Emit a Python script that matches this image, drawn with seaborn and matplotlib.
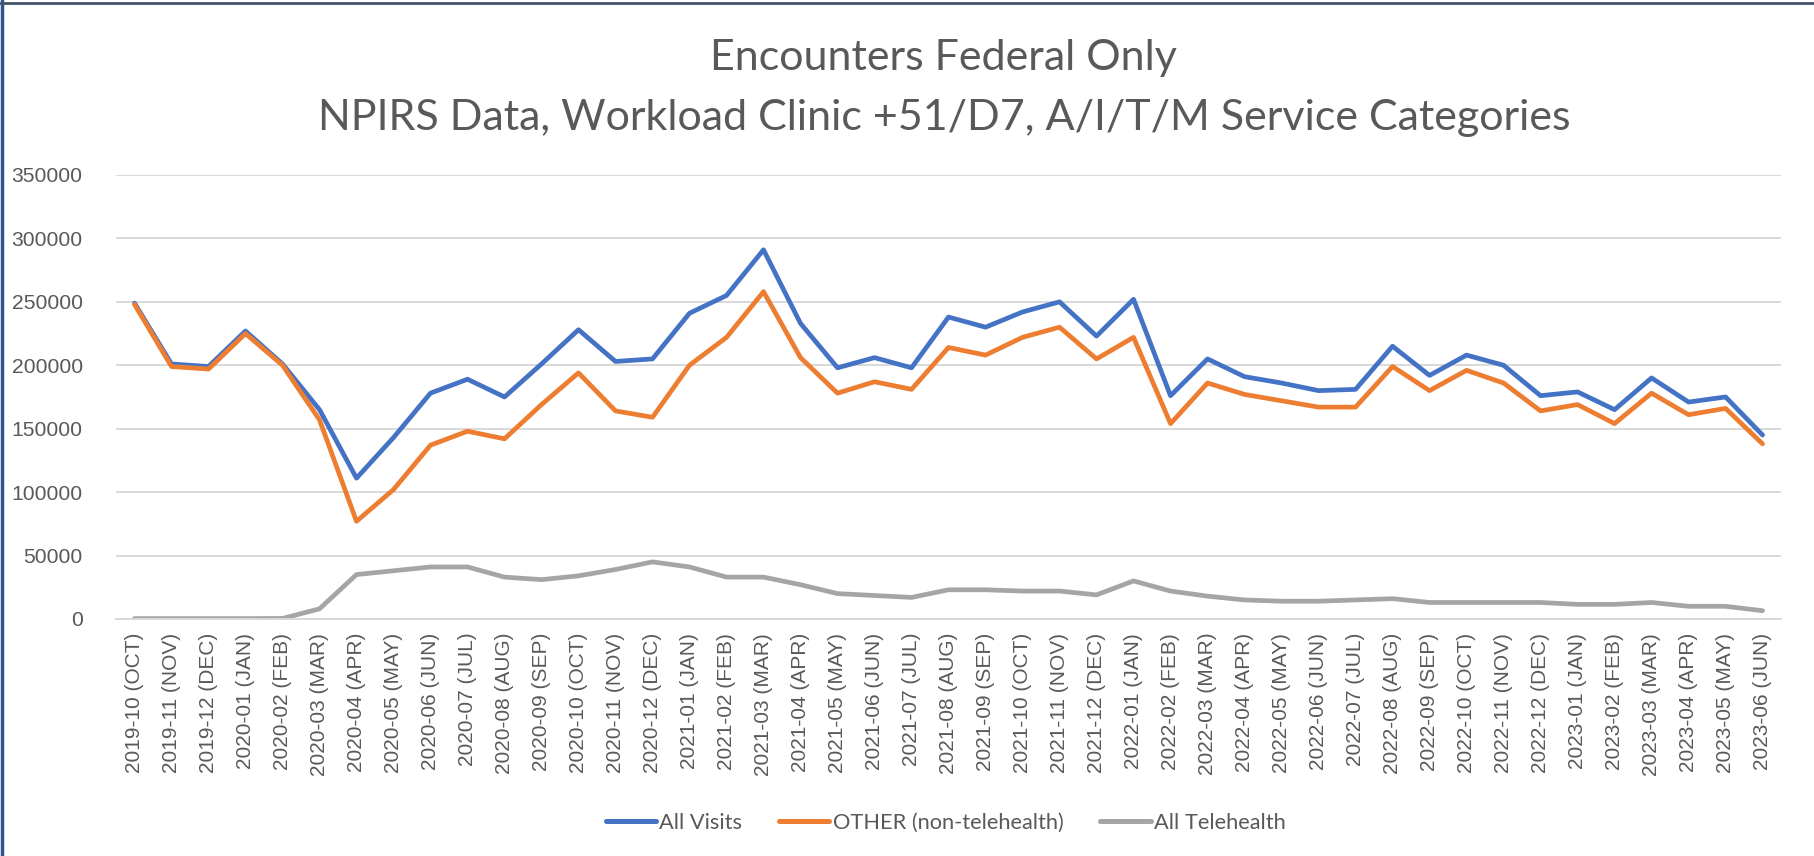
import matplotlib
matplotlib.use("Agg")
import matplotlib.pyplot as plt
import matplotlib.ticker as mticker
from matplotlib.lines import Line2D
import pandas as pd
import seaborn as sns

months = [
    "2019-10 (OCT)", "2019-11 (NOV)", "2019-12 (DEC)",
    "2020-01 (JAN)", "2020-02 (FEB)", "2020-03 (MAR)", "2020-04 (APR)",
    "2020-05 (MAY)", "2020-06 (JUN)", "2020-07 (JUL)", "2020-08 (AUG)",
    "2020-09 (SEP)", "2020-10 (OCT)", "2020-11 (NOV)", "2020-12 (DEC)",
    "2021-01 (JAN)", "2021-02 (FEB)", "2021-03 (MAR)", "2021-04 (APR)",
    "2021-05 (MAY)", "2021-06 (JUN)", "2021-07 (JUL)", "2021-08 (AUG)",
    "2021-09 (SEP)", "2021-10 (OCT)", "2021-11 (NOV)", "2021-12 (DEC)",
    "2022-01 (JAN)", "2022-02 (FEB)", "2022-03 (MAR)", "2022-04 (APR)",
    "2022-05 (MAY)", "2022-06 (JUN)", "2022-07 (JUL)", "2022-08 (AUG)",
    "2022-09 (SEP)", "2022-10 (OCT)", "2022-11 (NOV)", "2022-12 (DEC)",
    "2023-01 (JAN)", "2023-02 (FEB)", "2023-03 (MAR)", "2023-04 (APR)",
    "2023-05 (MAY)", "2023-06 (JUN)",
]

all_visits = [
    249000, 201000, 199000, 227000, 201000, 165000, 111000, 143000,
    178000, 189000, 175000, 201000, 228000, 203000, 205000, 241000,
    255000, 291000, 233000, 198000, 206000, 198000, 238000, 230000,
    242000, 250000, 223000, 252000, 176000, 205000, 191000, 186000,
    180000, 181000, 215000, 192000, 208000, 200000, 176000, 179000,
    165000, 190000, 171000, 175000, 145000,
]

other_visits = [
    248000, 199000, 197000, 225000, 200000, 157000, 77000, 102000,
    137000, 148000, 142000, 169000, 194000, 164000, 159000, 200000,
    222000, 258000, 206000, 178000, 187000, 181000, 214000, 208000,
    222000, 230000, 205000, 222000, 154000, 186000, 177000, 172000,
    167000, 167000, 199000, 180000, 196000, 186000, 164000, 169000,
    154000, 178000, 161000, 166000, 138000,
]

telehealth = [
    300, 300, 300, 300, 400, 8000, 35000, 38000,
    41000, 41000, 33000, 31000, 34000, 39000, 45000, 41000,
    33000, 33000, 27000, 20000, 18500, 17000, 23000, 23000,
    22000, 22000, 19000, 30000, 22000, 18000, 15000, 14000,
    14000, 15000, 16000, 13000, 13000, 13000, 13000, 11500,
    11500, 13000, 10000, 10000, 6500,
]

series_names = ["All Visits", "OTHER (non-telehealth)", "All Telehealth"]
series_colors = ["#4472C4", "#ED7D31", "#A5A5A5"]

df = pd.concat([
    pd.DataFrame({"month": months, "value": vals, "series": name})
    for name, vals in zip(series_names, [all_visits, other_visits, telehealth])
], ignore_index=True)

sns.set_theme(style="white")
plt.rcParams["font.family"] = ["Liberation Sans", "DejaVu Sans"]
text_grey = "#595959"

fig = plt.figure(figsize=(18.15, 8.56), dpi=100)
ax = fig.add_axes([0.0639, 0.2769, 0.9174, 0.5187])

sns.lineplot(
    data=df, x="month", y="value", hue="series",
    hue_order=series_names, palette=series_colors,
    linewidth=3.4, sort=False, ax=ax, legend=False,
)

ax.set_xlim(-0.5, len(months) - 0.5)
ax.set_ylim(0, 350000)
ax.yaxis.set_major_locator(mticker.MultipleLocator(50000))
ax.yaxis.set_major_formatter(mticker.FuncFormatter(lambda v, _: f"{v:.0f}"))
ax.grid(axis="y", color="#D9D9D9", linewidth=1.4)
ax.grid(axis="x", visible=False)
ax.set_axisbelow(True)
for side in ["top", "right", "left"]:
    ax.spines[side].set_visible(False)
ax.spines["bottom"].set_color("#D9D9D9")
ax.spines["bottom"].set_linewidth(1.4)
ax.set_xlabel("")
ax.set_ylabel("")

ax.set_xticks(range(len(months)))
ax.set_xticklabels(months, rotation=90)
ax.tick_params(axis="x", length=0, pad=10, labelsize=15, labelcolor=text_grey)
ax.tick_params(axis="y", length=0, pad=24, labelsize=15.2, labelcolor=text_grey)

fig.text(
    0.52, 0.932, "Encounters Federal Only",
    ha="center", va="center", fontsize=31, color=text_grey, family="Lato",
)
fig.text(
    0.52, 0.862, "NPIRS Data, Workload Clinic +51/D7, A/I/T/M Service Categories",
    ha="center", va="center", fontsize=31, color=text_grey, family="Lato",
)

handles = [Line2D([], [], color=c, linewidth=3.6) for c in series_colors]
fig.legend(
    handles, series_names, loc="center", bbox_to_anchor=(0.521, 0.039),
    ncol=3, frameon=False, handlelength=2.3, handletextpad=0.15,
    columnspacing=1.7, prop={"family": "Lato", "size": 15.7},
    labelcolor=text_grey,
)

# chart frame edges seen in the screenshot
fig.add_artist(Line2D([0.001, 0.001], [0, 1], transform=fig.transFigure,
                      color="#2F5597", linewidth=2.5))
fig.add_artist(Line2D([0, 1], [0.997, 0.997], transform=fig.transFigure,
                      color="#44546A", linewidth=2))

fig.savefig("out.png", dpi=100)
